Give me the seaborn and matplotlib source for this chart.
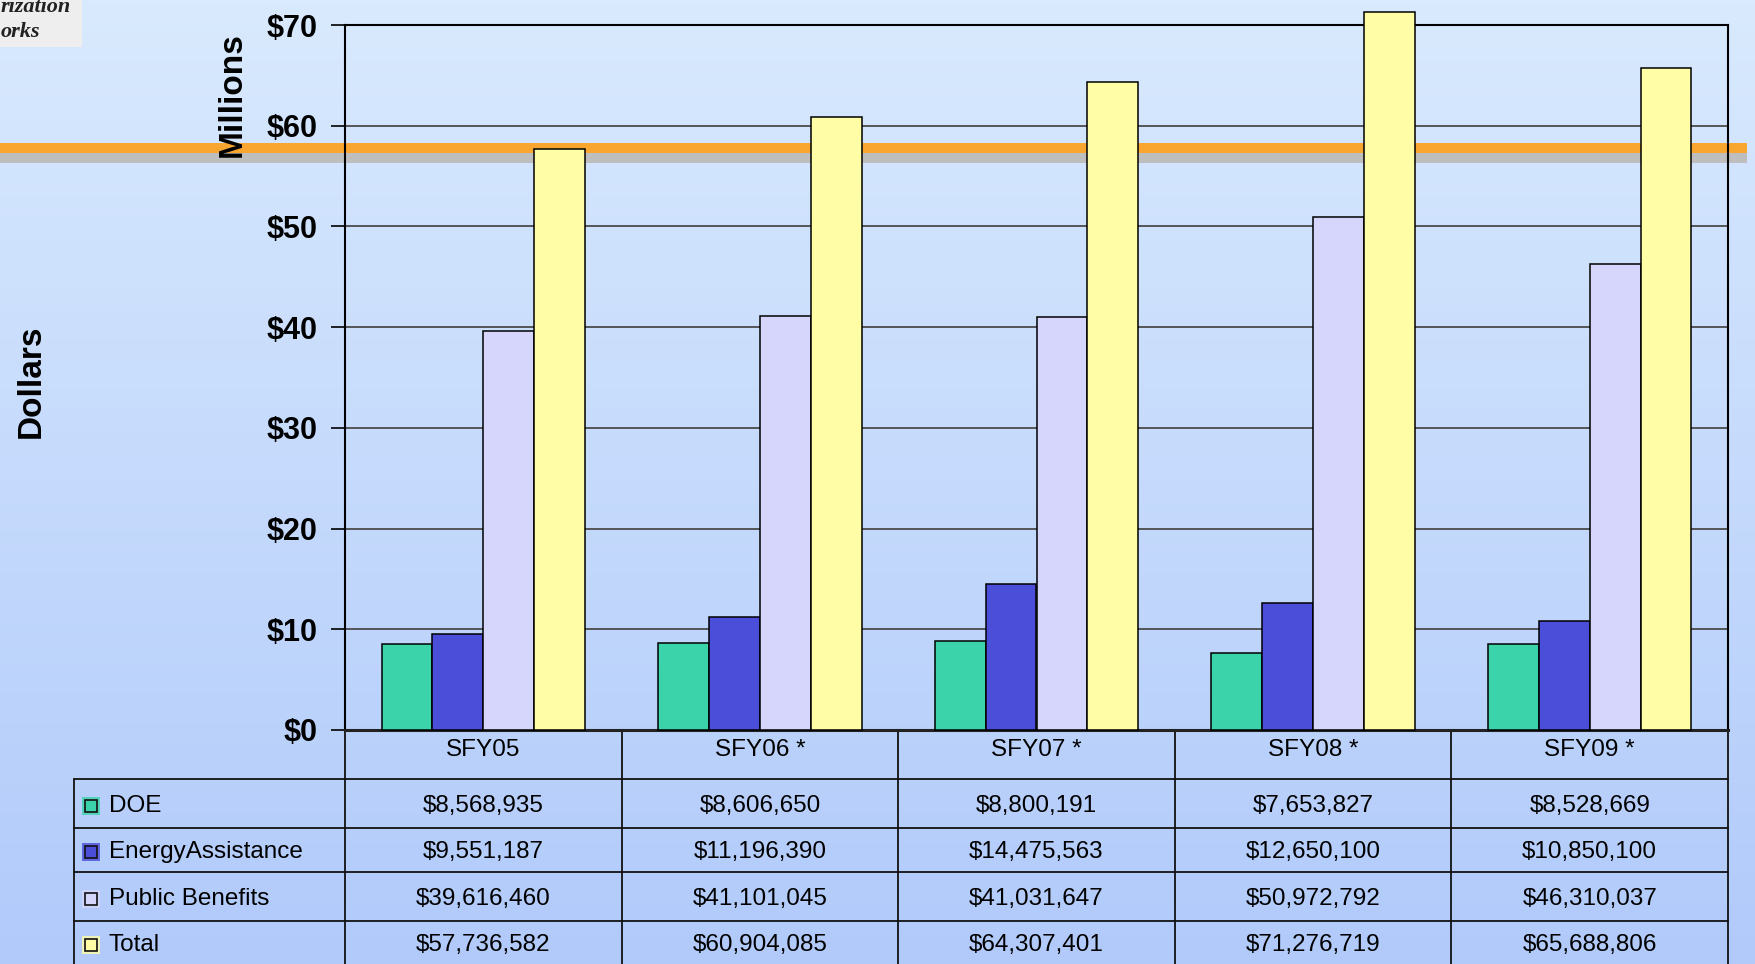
import matplotlib
matplotlib.use('Agg')
import matplotlib.pyplot as plt
import matplotlib.transforms as mtransforms
from matplotlib.patches import Rectangle
import numpy as np
import pandas as pd
import seaborn as sns

# Chart data (dollars)
years = ['SFY05', 'SFY06 *', 'SFY07 *', 'SFY08 *', 'SFY09 *']
series = ['DOE', 'EnergyAssistance', 'Public Benefits', 'Total']
doe = [8568935, 8606650, 8800191, 7653827, 8528669]
energy = [9551187, 11196390, 14475563, 12650100, 10850100]
public = [39616460, 41101045, 41031647, 50972792, 46310037]
total = [57736582, 60904085, 64307401, 71276719, 65688806]
y_ticks = [0, 10, 20, 30, 40, 50, 60, 70]
y_tick_labels = ['$0', '$10', '$20', '$30', '$40', '$50', '$60', '$70']

colors = ['#3BD3A9', '#4A4ED8', '#D6D6FC', '#FFFEA6']

values = [doe, energy, public, total]
df = pd.DataFrame({
    'year': years * len(series),
    'series': [s for s in series for _ in years],
    'amount': [v / 1e6 for vals in values for v in vals],
})

sns.set_theme(style='white')
plt.rcParams['font.family'] = ['Liberation Sans', 'DejaVu Sans']
plt.rcParams['text.color'] = 'black'

W, H = 1756, 964
fig = plt.figure(figsize=(W / 100, H / 100), dpi=100)

# Background gradient + orange band
bg = fig.add_axes([0, 0, 1, 1], zorder=-10)
grad = np.linspace(0, 1, 256).reshape(-1, 1)
top_c = np.array([217, 234, 254]) / 255
bot_c = np.array([177, 202, 250]) / 255
img = top_c + (bot_c - top_c) * grad[:, :, None]
bg.imshow(img, aspect='auto', extent=[0, 1, 0, 1], origin='upper')
bg.add_patch(Rectangle((0, 1 - 163 / H), 1747 / W, 10 / H, color='#BEBEBE', lw=0))
bg.add_patch(Rectangle((0, 1 - 153 / H), 1747 / W, 10 / H, color='#F8A630', lw=0))
# logo fragment in the corner
bg.add_patch(Rectangle((0, 1 - 47 / H), 82 / W, 47 / H, color='#EEEEEE', lw=0))
bg.set_xlim(0, 1)
bg.set_ylim(0, 1)
bg.axis('off')
fig.text(1 / W, 1 - 12 / H, 'rization', ha='left', va='baseline', fontsize=16,
         family='Liberation Serif', weight='bold', style='italic', color='#222222')
fig.text(1 / W, 1 - 37 / H, 'orks', ha='left', va='baseline', fontsize=16,
         family='Liberation Serif', weight='bold', style='italic', color='#222222')

# Main chart
ax = fig.add_axes([345 / W, 1 - 730 / H, (1728 - 345) / W, (730 - 25) / H], zorder=1)
ax.set_facecolor('none')
sns.barplot(data=df, x='year', y='amount', hue='series', palette=colors,
            order=years, hue_order=series, width=0.735, gap=0, saturation=1,
            edgecolor='black', linewidth=1.1, legend=False, ax=ax, zorder=3)
for p in ax.patches:
    p.set_clip_on(False)

ax.set_ylim(0, 70)
ax.set_xlim(-0.5, len(years) - 0.5)
ax.set_yticks(y_ticks)
ax.set_yticklabels(y_tick_labels, fontsize=22, fontweight='bold')
ax.set_xticks([])
ax.set_xlabel('')
ax.set_ylabel('')
ax.yaxis.grid(True, color='#4A4A4A', linewidth=1.3)
ax.set_axisbelow(True)
ax.tick_params(axis='y', direction='out', length=10, width=1.2, color='black',
               labelcolor='black', pad=10, left=True)
for side in ['left', 'top', 'right']:
    ax.spines[side].set_color('black')
    ax.spines[side].set_linewidth(1.5)
ax.spines['bottom'].set_color('#222222')
ax.spines['bottom'].set_linewidth(2.2)

fig.text(232 / W, 1 - 95 / H, 'Millions', rotation=90, ha='center', va='center',
         fontsize=24, fontweight='bold')
fig.text(31 / W, 1 - 381 / H, 'Dollars', rotation=90, ha='center', va='center',
         fontsize=24, fontweight='bold')

# Data table under the chart
tr = mtransforms.blended_transform_factory(ax.transData, fig.transFigure)
ftr = fig.transFigure
row_edges = [730, 779, 828, 872, 921]
line_kw = dict(color='#111111', linewidth=1.3, clip_on=False)

for b in np.arange(-0.5, len(years), 1.0):
    ax.plot([b, b], [1 - 730 / H, 0], transform=tr, **line_kw)
for yy in row_edges[1:]:
    ax.plot([74 / W, 1728 / W], [1 - yy / H, 1 - yy / H], transform=ftr, **line_kw)
ax.plot([74 / W, 74 / W], [1 - 779 / H, 0], transform=ftr, **line_kw)

for i, yr in enumerate(years):
    ax.text(i, 1 - 750 / H, yr, transform=tr, ha='center', va='center',
            fontsize=17.5)

row_centers = [806, 852, 899, 945]
for r, (name, vals) in enumerate(zip(series, values)):
    yc = 1 - row_centers[r] / H
    ax.plot([91 / W], [yc], transform=ftr, marker='s', markersize=12.5,
            color=colors[r], markeredgewidth=0, clip_on=False, alpha=0.8)
    ax.plot([91 / W], [yc], transform=ftr, marker='s', markersize=8.5,
            markerfacecolor=colors[r], markeredgecolor='#111111',
            markeredgewidth=1.2, clip_on=False)
    ax.text(109 / W, yc, name, transform=ftr, ha='left', va='center',
            fontsize=17.5)
    for i, v in enumerate(vals):
        ax.text(i, yc, '${:,}'.format(v), transform=tr, ha='center',
                va='center', fontsize=17.5)

fig.savefig('out.png', dpi=100)
